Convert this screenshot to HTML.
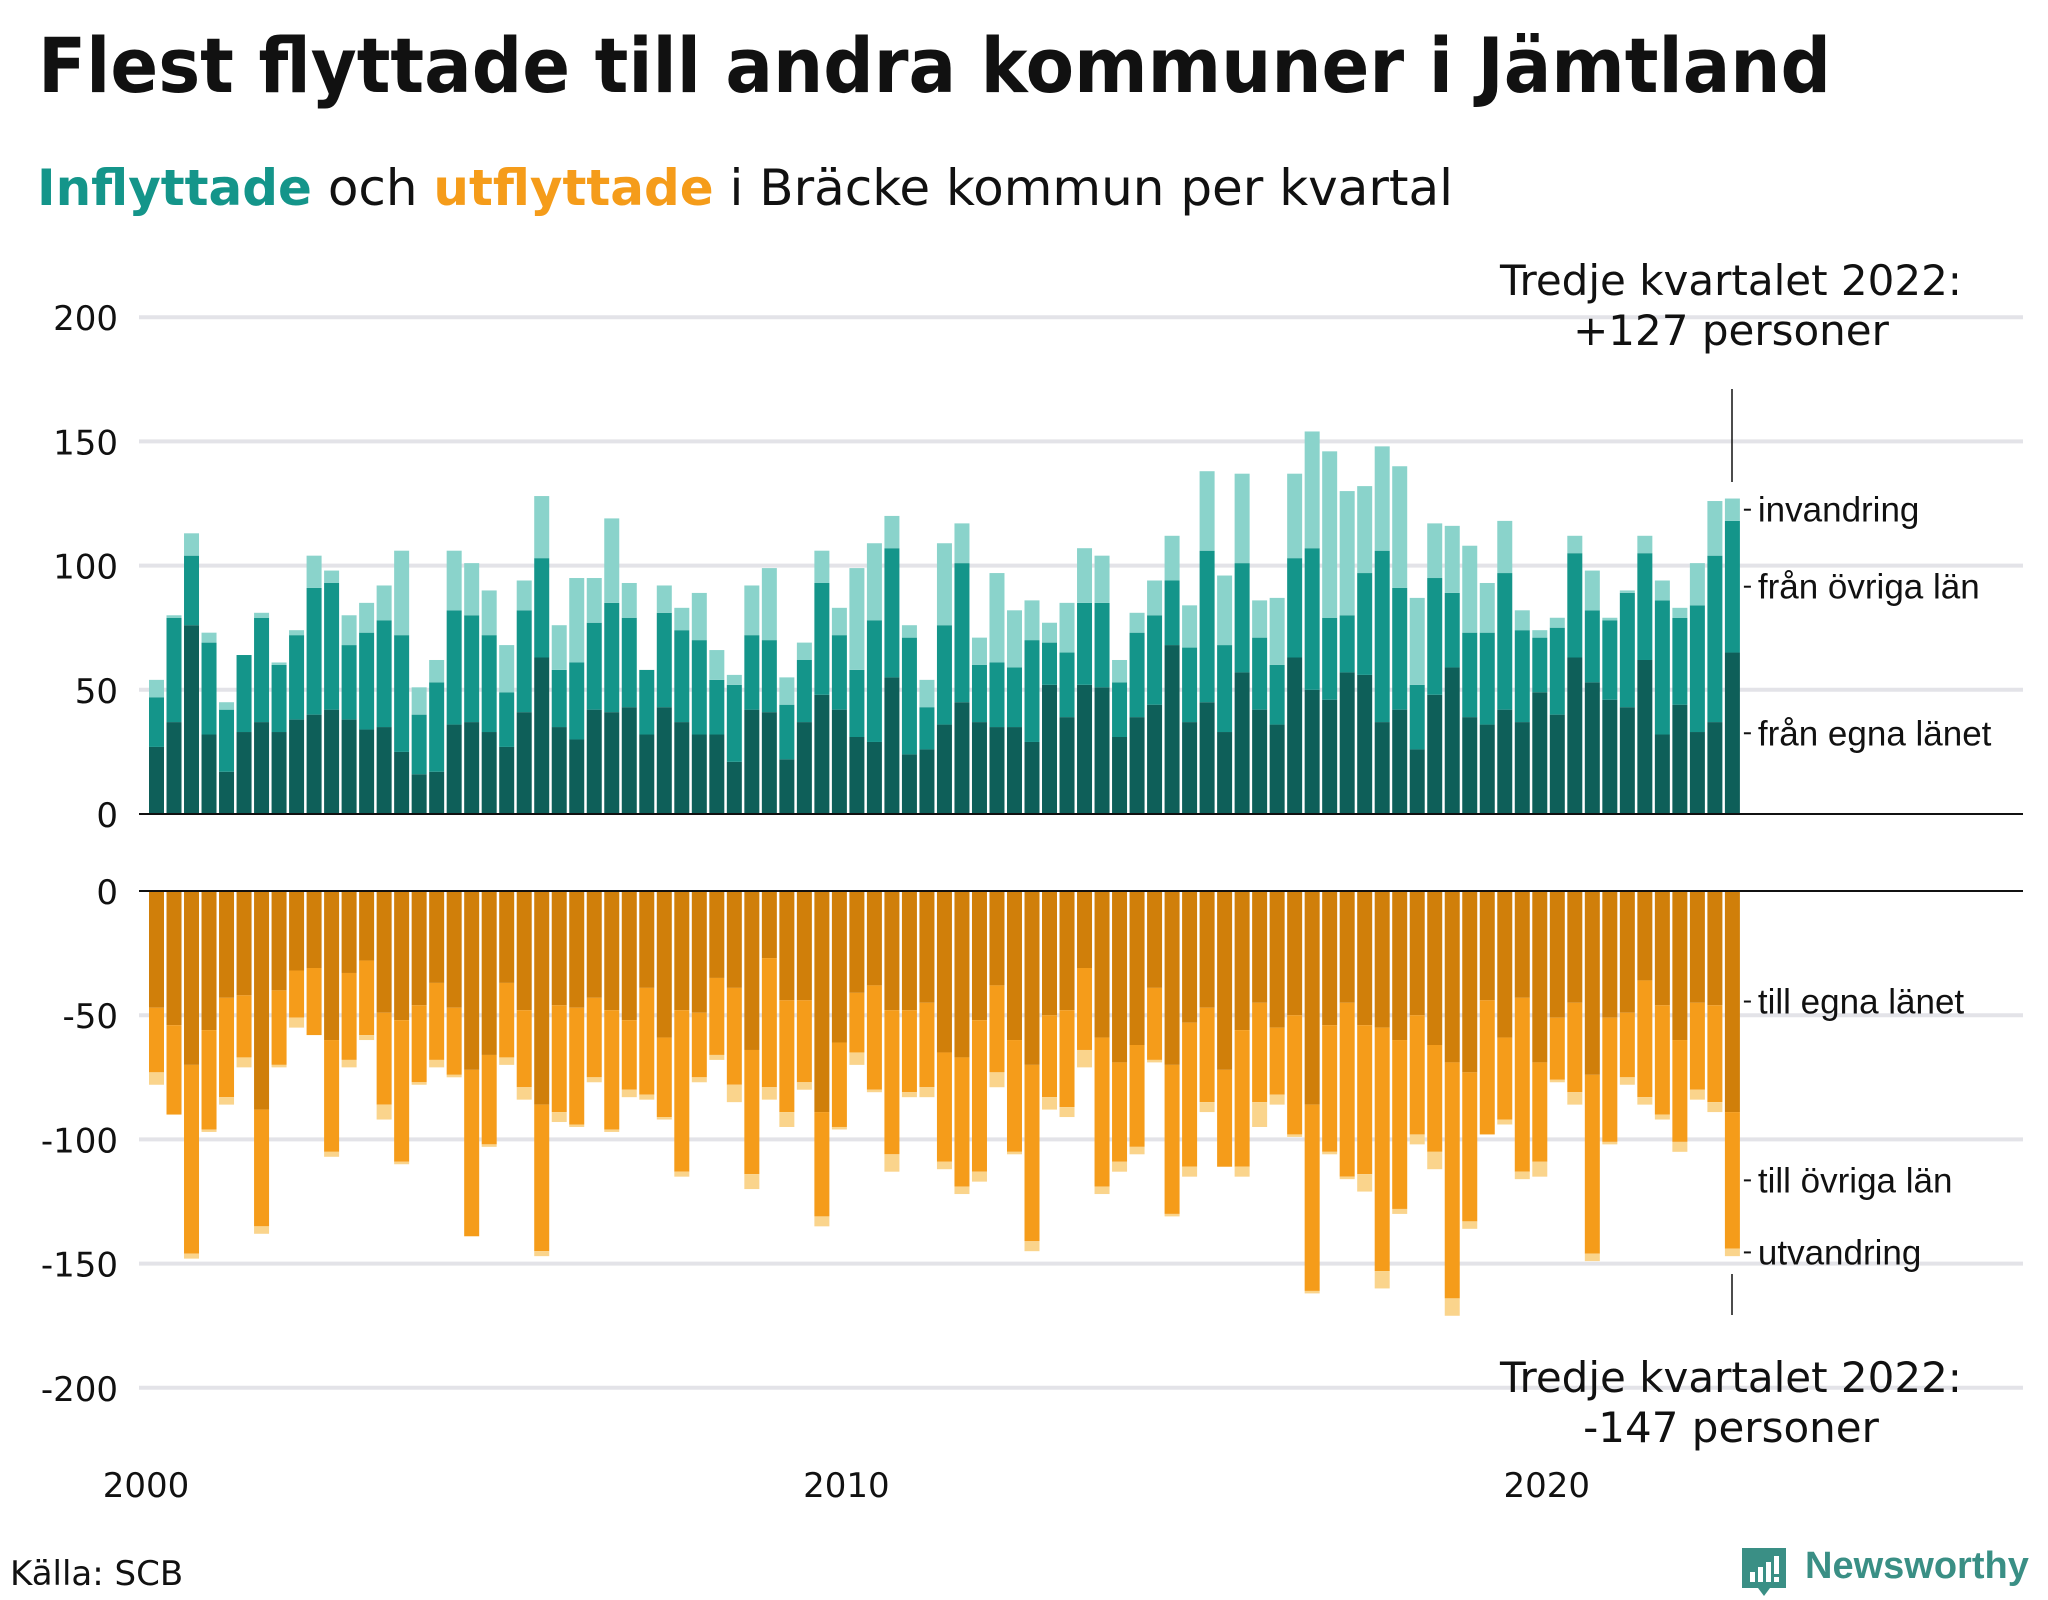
<!DOCTYPE html>
<html><head><meta charset="utf-8"><style>
html,body{margin:0;padding:0;background:#fff;}
svg{display:block;}
</style></head><body>
<svg id="chart" width="2048" height="1600" viewBox="0 0 2048 1600" xmlns="http://www.w3.org/2000/svg">
<text x="38" y="92" font-family="DejaVu Sans, sans-serif" font-weight="bold" font-size="76" fill="#111" textLength="1793" lengthAdjust="spacingAndGlyphs">Flest flyttade till andra kommuner i Jämtland</text>
<text x="37" y="205" font-family="DejaVu Sans, sans-serif" font-size="50" fill="#111" textLength="1416" lengthAdjust="spacingAndGlyphs"><tspan font-weight="bold" fill="#14958a">Inflyttade</tspan> och <tspan font-weight="bold" fill="#f59c1a">utflyttade</tspan> i Bräcke kommun per kvartal</text>
<g id="grid"></g>
<g id="bars"></g>
<g id="labels"></g>
<text font-family="DejaVu Sans, sans-serif" font-size="42" fill="#111" text-anchor="middle"><tspan x="1731" y="295">Tredje kvartalet 2022:</tspan><tspan x="1731" y="345">+127 personer</tspan></text>
<line x1="1732" y1="389" x2="1732" y2="482" stroke="#111" stroke-width="1.5"/>
<text font-family="DejaVu Sans, sans-serif" font-size="42" fill="#111" text-anchor="middle"><tspan x="1731" y="1392">Tredje kvartalet 2022:</tspan><tspan x="1731" y="1442">-147 personer</tspan></text>
<line x1="1732" y1="1274" x2="1732" y2="1315" stroke="#111" stroke-width="1.5"/>
<text x="10" y="1585" font-family="DejaVu Sans, sans-serif" font-size="34" fill="#111">Källa: SCB</text>
<g>
<path d="M1742 1548 h44 v40 h-16 l-6 8 l-6 -8 h-16 z" fill="#3a8f85"/>
<rect x="1750" y="1572" width="5" height="10" fill="#fff"/><rect x="1758" y="1567" width="5" height="15" fill="#fff"/><rect x="1766" y="1562" width="5" height="20" fill="#fff"/><rect x="1774" y="1556" width="5" height="18" fill="#fff"/><rect x="1774" y="1577" width="5" height="5" fill="#fff"/>
<text x="1805" y="1578" font-family="Liberation Sans, sans-serif" font-weight="bold" font-size="38" fill="#3a8f85">Newsworthy</text>
</g>
</svg>
<script>
const inEgna = [27,37,76,32,17,33,37,33,38,40,42,38,34,35,25,16,17,36,37,33,27,41,63,35,30,42,41,43,32,43,37,32,32,21,42,41,22,37,48,42,31,29,55,24,26,36,45,37,35,35,29,52,39,52,51,31,39,44,68,37,45,33,57,42,36,63,50,46,57,56,37,42,26,48,59,39,36,42,37,49,40,63,53,46,43,62,32,44,33,37,65];
const inOvriga = [20,42,28,37,25,31,42,27,34,51,51,30,39,43,47,24,36,46,43,39,22,41,40,23,31,35,44,36,26,38,37,38,22,31,30,29,22,25,45,30,27,49,52,47,17,40,56,23,26,24,41,17,26,33,34,22,34,36,26,30,61,35,44,29,24,40,57,33,23,41,69,49,26,47,30,34,37,55,37,22,35,42,29,32,46,43,54,35,51,67,53];
const inInvandring = [7,1,9,4,3,0,2,1,2,13,5,12,12,14,34,11,9,24,21,18,19,12,25,18,34,18,34,14,0,11,9,19,12,4,20,29,11,7,13,11,41,31,13,5,11,33,16,11,36,23,16,8,20,22,19,9,8,14,18,17,32,28,36,15,27,34,47,67,50,35,42,49,35,22,27,35,20,21,8,3,4,7,16,1,1,7,8,4,17,22,9];
const outEgna = [47,54,70,56,43,42,88,40,32,31,60,33,28,49,52,46,37,47,72,66,37,48,86,46,47,43,48,52,39,59,48,49,35,39,64,27,44,44,89,61,41,38,48,48,45,65,67,52,38,60,70,50,48,31,59,69,62,39,70,53,47,72,56,45,55,50,86,54,45,54,55,60,50,62,69,73,44,59,43,69,51,45,74,51,49,36,46,60,45,46,89];
const outOvriga = [26,36,76,40,40,25,47,30,19,27,45,35,30,37,57,31,31,27,67,36,30,31,59,43,47,32,48,28,43,32,65,26,31,39,50,52,45,33,42,34,24,42,58,33,34,44,52,61,35,45,71,33,39,33,60,40,41,29,60,58,38,39,55,40,27,48,75,51,70,60,98,68,48,43,95,60,54,33,70,40,25,36,72,50,26,47,44,41,35,39,55];
const outUtvandring = [5,0,2,1,3,4,3,1,4,0,2,3,2,6,1,1,3,1,0,1,3,5,2,4,1,2,1,3,2,1,2,2,2,7,6,5,6,3,4,1,5,1,7,2,4,3,3,4,6,1,4,5,4,7,3,4,3,1,1,4,4,0,4,10,4,1,1,1,1,7,7,2,4,7,7,3,0,2,3,6,1,5,3,1,3,3,2,4,4,4,3];
const xYears = [2000,2010,2020];
const topTicks = [0,50,100,150,200];
const bottomTicks = [0,-50,-100,-150,-200];
const inLabels = ["från egna länet","från övriga län","invandring"];
const outLabels = ["till egna länet","till övriga län","utvandring"];

const svgNS = "http://www.w3.org/2000/svg";
const X0 = 149, STEP = 17.51, BW = 15;
const TOP0 = 814, BOT0 = 891, PX = 2.484;
const xQ = i => X0 + i * STEP;
const yTop = v => TOP0 - v * PX;
const yBot = v => BOT0 - v * PX;
function mk(tag, attrs, parent) {
  const e = document.createElementNS(svgNS, tag);
  for (const k in attrs) e.setAttribute(k, attrs[k]);
  parent.appendChild(e);
  return e;
}
const grid = document.getElementById('grid');
const bars = document.getElementById('bars');
const labels = document.getElementById('labels');

topTicks.forEach(t => {
  if (t !== 0) {
    const g = mk('line', {x1:139, x2:2023, y1:yTop(t), y2:yTop(t), stroke:'#e3e3e8', 'stroke-width':4}, grid);
    
    
  }
  const l = mk('text', {x:118, y:yTop(t)+13, 'text-anchor':'end', 'font-family':'DejaVu Sans, sans-serif', 'font-size':34, fill:'#111'}, labels);
  l.textContent = t;
  
  
});
bottomTicks.forEach(t => {
  if (t !== 0) {
    const g = mk('line', {x1:139, x2:2023, y1:yBot(t), y2:yBot(t), stroke:'#e3e3e8', 'stroke-width':4}, grid);
    
    
  }
  const l = mk('text', {x:118, y:yBot(t)+13, 'text-anchor':'end', 'font-family':'DejaVu Sans, sans-serif', 'font-size':34, fill:'#111'}, labels);
  l.textContent = t;
  
  
});

const inCols = ['#0e5f59','#14958a','#8ad3cb'];
const outCols = ['#d07f0a','#f59c1a','#fad48c'];
const inSeries = [inEgna, inOvriga, inInvandring];
const outSeries = [outEgna, outOvriga, outUtvandring];
for (let i = 0; i < inEgna.length; i++) {
  let acc = 0;
  inSeries.forEach((s, k) => {
    const v = s[i];
    const r = mk('rect', {x:xQ(i), width:BW, y:yTop(acc+v), height:v*PX, fill:inCols[k]}, bars);
    
    
    acc += v;
  });
  acc = 0;
  outSeries.forEach((s, k) => {
    const v = s[i];
    const r = mk('rect', {x:xQ(i), width:BW, y:yBot(-acc), height:v*PX, fill:outCols[k]}, bars);
    
    
    acc += v;
  });
}
const z1 = mk('line', {x1:139, x2:2023, y1:TOP0, y2:TOP0, stroke:'#111', 'stroke-width':2}, bars);


const z2 = mk('line', {x1:139, x2:2023, y1:BOT0, y2:BOT0, stroke:'#111', 'stroke-width':2}, bars);



xYears.forEach(yr => {
  const i = (yr - 2000) * 4;
  const t = mk('text', {x:xQ(i)-3, y:1497, 'text-anchor':'middle', 'font-family':'DejaVu Sans, sans-serif', 'font-size':34, fill:'#111'}, labels);
  t.textContent = yr;
  
  
});

const last = inEgna.length - 1;
const lx = xQ(last) + BW;
let acc = 0;
inSeries.forEach((s, k) => {
  const mid = acc + s[last] / 2;
  acc += s[last];
  const y = yTop(mid);
  const tk = mk('line', {x1:lx+4, x2:lx+11, y1:y, y2:y, stroke:'#111', 'stroke-width':2}, labels);
  
  
  const t = mk('text', {x:lx+18, y:y+12, 'font-family':'Liberation Sans, Arial, sans-serif', 'font-size':35, fill:'#111'}, labels);
  t.textContent = inLabels[k];
  
  
});
acc = 0;
outSeries.forEach((s, k) => {
  const mid = acc + s[last] / 2;
  acc += s[last];
  const y = yBot(-mid);
  const tk = mk('line', {x1:lx+4, x2:lx+11, y1:y, y2:y, stroke:'#111', 'stroke-width':2}, labels);
  
  
  const t = mk('text', {x:lx+18, y:y+12, 'font-family':'Liberation Sans, Arial, sans-serif', 'font-size':35, fill:'#111'}, labels);
  t.textContent = outLabels[k];
  
  
});
</script>
</body></html>
